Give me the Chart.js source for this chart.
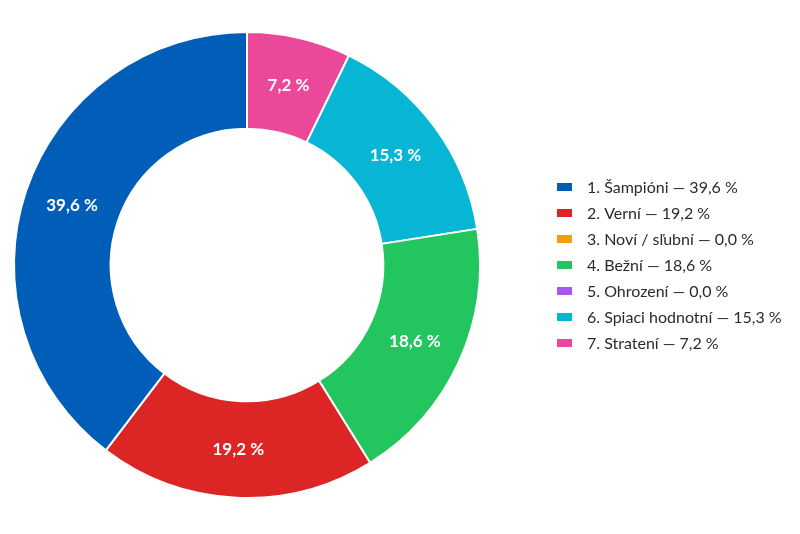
<!DOCTYPE html>
<html>
<head>
<meta charset="utf-8">
<script src="https://cdn.jsdelivr.net/npm/chart.js@4.4.1/dist/chart.umd.min.js"></script>
<style>
html,body{margin:0;padding:0;background:#fff;}
#wrap{width:800px;height:534px;}
</style>
</head>
<body>
<div id="wrap"><canvas id="c" width="800" height="534"></canvas></div>
<script>
const categories = ["1. Šampióni", "2. Verní", "3. Noví / sľubní", "4. Bežní", "5. Ohrození", "6. Spiaci hodnotní", "7. Stratení"];
const values = [39.6, 19.2, 0.0, 18.6, 0.0, 15.3, 7.2];
const colors = ["#005eb8", "#dc2626", "#f59e0b", "#22c55e", "#a855f7", "#06b6d4", "#ec4899"];

const fmt = v => v.toFixed(1).replace('.', ',') + ' %';

// drawn counter-clockwise from the top: feed reversed order
const revLabels = categories.slice().reverse();
const revValues = values.slice().reverse();
const revColors = colors.slice().reverse();

const sliceLabels = {
  id: 'sliceLabels',
  afterDatasetsDraw(chart) {
    const ctx = chart.ctx;
    const meta = chart.getDatasetMeta(0);
    ctx.save();
    ctx.font = 'bold 17px Lato';
    ctx.fillStyle = '#ffffff';
    ctx.textAlign = 'center';
    ctx.textBaseline = 'middle';
    meta.data.forEach((arc, i) => {
      const v = revValues[i];
      if (!v) return;
      const p = arc.tooltipPosition();
      ctx.fillText(fmt(v), p.x, p.y);
    });
    ctx.restore();
  }
};

const sideLegend = {
  id: 'sideLegend',
  afterDraw(chart) {
    const ctx = chart.ctx;
    const ca = chart.chartArea;
    const rowH = 26;
    const cy = (ca.top + ca.bottom) / 2;
    const y0 = cy - rowH * (categories.length - 1) / 2;
    const boxX = 557, boxW = 15, boxH = 8, textX = 587;
    ctx.save();
    ctx.font = '400 16px Lato';
    ctx.textAlign = 'left';
    ctx.textBaseline = 'middle';
    categories.forEach((c, i) => {
      const y = y0 + i * rowH;
      ctx.fillStyle = colors[i];
      ctx.fillRect(boxX, y - boxH / 2, boxW, boxH);
      ctx.fillStyle = '#2b2b2b';
      ctx.fillText(c + ' — ' + fmt(values[i]), textX, y + 1);
    });
    ctx.restore();
  }
};

new Chart(document.getElementById('c'), {
  type: 'doughnut',
  data: {
    labels: revLabels,
    datasets: [{
      data: revValues,
      backgroundColor: revColors,
      borderColor: '#ffffff',
      borderWidth: 2,
      hoverOffset: 0
    }]
  },
  options: {
    responsive: false,
    animation: false,
    cutout: '58.5%',
    layout: { padding: { left: 13, right: 319, top: 31, bottom: 35 } },
    plugins: {
      legend: { display: false },
      tooltip: { enabled: false }
    }
  },
  plugins: [sliceLabels, sideLegend]
});
</script>
</body>
</html>
